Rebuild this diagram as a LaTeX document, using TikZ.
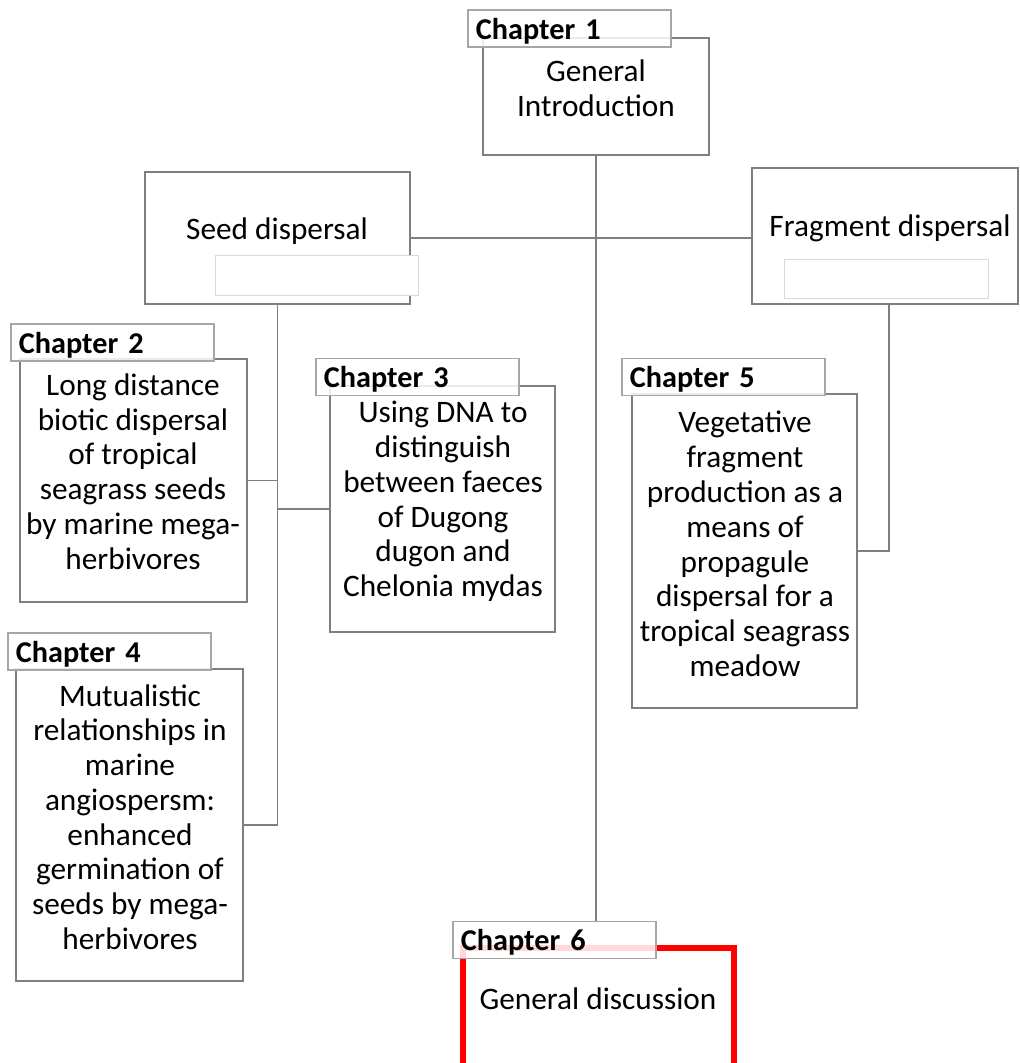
\documentclass[tikz,border=0pt]{standalone}
\usepackage{fontspec}
\setmainfont{Carlito}
\usetikzlibrary{positioning,calc}
\definecolor{boxgray}{RGB}{127,127,127}
\definecolor{tabgray}{RGB}{166,166,166}
\definecolor{slotgray}{RGB}{217,217,217}
\definecolor{discred}{RGB}{255,0,0}

\tikzset{
  sz/.style 2 args={minimum width=#1*0.02cm, minimum height=#2*0.02cm},
  chbox/.style={draw=boxgray, line width=1.6pt, fill=white, inner sep=0pt},
  chtab/.style={draw=tabgray, line width=1.1pt, fill=white, fill opacity=0.85,
    text opacity=1, text width=3.74cm, minimum height=0.74cm, inner xsep=0.16cm,
    inner ysep=0pt, text depth=0pt, align=left, anchor=west,
    font=\fontsize{17.2}{19}\selectfont\bfseries},
  chtext/.style={align=center, inner sep=0pt, font=\fontsize{17.8}{19.8}\selectfont},
  slot/.style={draw=slotgray, line width=0.5pt, fill=white, inner sep=0pt},
  link/.style={draw=boxgray, line width=1.1pt},
}

\begin{document}
\begin{tikzpicture}[x=0.02cm, y=-0.02cm]
    \useasboundingbox (0,0) rectangle (1019,1063);

    % Main chapter boxes
    \node[chbox, sz={226}{117}] (c1) at (596,96.5) {};
    \node[chbox, sz={265}{132}] (seed) at (277.5,238) {};
    \node[chbox, sz={266}{136}] (frag) at (885,236) {};
    \node[chbox, sz={227}{243}] (c2) at (133.5,480.5) {};
    \node[chbox, sz={225}{246}] (c3) at (442.5,509) {};
    \node[chbox, sz={227}{312}] (c4) at (129.5,825) {};
    \node[chbox, sz={225}{314}] (c5) at (744.5,551) {};
    \node[chbox, draw=discred, line width=3.4pt, sz={271}{118}] (c6) at (598.5,1007) {};

    % Empty slots
    \node[slot, sz={203}{40}] (seedslot) at (316.5,275) {};
    \node[slot, sz={204}{39}] (fragslot) at (886,278.5) {};

    % Box texts
    \node[chtext] (c1txt) at (596,88.5) {General\\Introduction};
    \node[chtext] (seedtxt) at (277,231) {Seed dispersal};
    \node[chtext] (fragtxt) at (890,228) {Fragment dispersal};
    \node[chtext] (c2txt) at (133,471.5) {Long distance\\biotic dispersal\\of tropical\\seagrass seeds\\by marine mega-\\herbivores};
    \node[chtext] (c3txt) at (443,501.5) {Using DNA to\\distinguish\\between faeces\\of Dugong\\dugon and\\Chelonia mydas};
    \node[chtext] (c4txt) at (130,817) {Mutualistic\\relationships in\\marine\\angiospersm:\\enhanced\\germination of\\seeds by mega-\\herbivores};
    \node[chtext] (c5txt) at (745,544) {Vegetative\\fragment\\production as a\\means of\\propagule\\dispersal for a\\tropical seagrass\\meadow};
    \node[chtext] (c6txt) at (598,999) {General discussion};

    % Chapter tabs
    \node[chtab] (c1tab) at (467,28.5) {Chapter 1};
    \node[chtab] (c2tab) at (10,342.5) {Chapter 2};
    \node[chtab] (c3tab) at (315,377) {Chapter 3};
    \node[chtab] (c4tab) at (7,651.5) {Chapter 4};
    \node[chtab] (c5tab) at (621,377) {Chapter 5};
    \node[chtab] (c6tab) at (452,940) {Chapter 6};

    % Connectors
    \draw[link] (c1.south) -- (c1.south |- c6tab.north);
    \draw[link] (seed.east) -- (seed.east -| frag.west);
    \draw[link] (seed.south) -- (seed.south |- c4.east);
    \draw[link] (c2.east) -- (c2.east -| seed.south);
    \draw[link] (c3.west) -- (c3.west -| seed.south);
    \draw[link] (c4.east) -- (c4.east -| seed.south);
    \draw[link] ([xshift=0.08cm]frag.south) |- (c5.east);
\end{tikzpicture}
\end{document}
